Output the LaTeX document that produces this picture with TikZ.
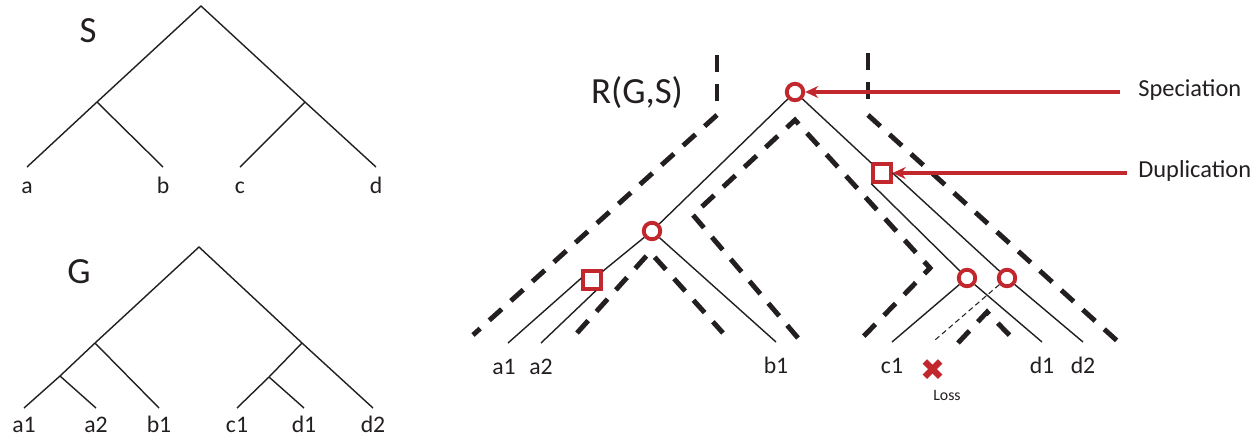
\documentclass[tikz,border=0pt]{standalone}
\usepackage{fontspec}
\setmainfont{Carlito}
\newfontfamily\symbolfont{DejaVu Sans}
\usetikzlibrary{arrows.meta, positioning}
\definecolor{eventred}{HTML}{C1272D}
\definecolor{inkgray}{HTML}{231F20}

\begin{document}
\begin{tikzpicture}[
    x=0.02cm, y=-0.02cm,
    every node/.style={text=inkgray},
    branch/.style={draw=inkgray, line width=0.8pt},
    lostbranch/.style={draw=inkgray, line width=0.6pt, dash pattern=on 3pt off 2pt},
    outline/.style={draw=inkgray, line width=2.8pt, dash pattern=on 9.5pt off 7pt},
    specnode/.style={circle, draw=eventred, fill=white, line width=2.2pt, minimum size=0.33cm, inner sep=0pt},
    dupnode/.style={rectangle, draw=eventred, fill=white, line width=2.2pt, minimum size=0.35cm, inner sep=0pt},
    leaf/.style={font=\fontsize{13.5}{15}\selectfont, inner sep=0pt, text height=0.7em, text depth=0pt},
    treetitle/.style={font=\fontsize{21}{25}\selectfont},
    eventlabel/.style={font=\fontsize{13.9}{16}\selectfont, anchor=west, inner sep=0pt, text height=0.7em, text depth=0.2em},
    pointer/.style={draw=eventred, line width=2.2pt, -{Stealth[length=0.26cm, width=0.24cm]}}
]
    \useasboundingbox (0,0) rectangle (1260,444);

    % species tree S
    \node[treetitle] (stitle) at (88,31) {S};
    \coordinate (sroot) at (201,6);
    \coordinate (sab) at (97,102);
    \coordinate (scd) at (305,102);
    \coordinate (sa) at (27,167);
    \coordinate (sb) at (163,167);
    \coordinate (sc) at (240,167);
    \coordinate (sd) at (376,167);
    \draw[branch] (sa) -- (sab) -- (sroot) -- (scd) -- (sd);
    \draw[branch] (sab) -- (sb);
    \draw[branch] (scd) -- (sc);
    \node[leaf, below=0.27cm of sa] (la) {a};
    \node[leaf, below=0.27cm of sb] (lb) {b};
    \node[leaf, below=0.27cm of sc] (lc) {c};
    \node[leaf, below=0.27cm of sd] (ld) {d};

    % gene tree G
    \node[treetitle] (gtitle) at (79,272) {G};
    \coordinate (groot) at (199,247);
    \coordinate (gab) at (95,343);
    \coordinate (ga) at (60,376);
    \coordinate (gcd) at (302,343);
    \coordinate (gc) at (269,377);
    \coordinate (ga1) at (24,408);
    \coordinate (ga2) at (96,408);
    \coordinate (gb1) at (159,408);
    \coordinate (gc1) at (237,408);
    \coordinate (gd1) at (304,408);
    \coordinate (gd2) at (373,408);
    \draw[branch] (ga1) -- (ga) -- (gab) -- (groot) -- (gcd) -- (gd2);
    \draw[branch] (ga) -- (ga2);
    \draw[branch] (gab) -- (gb1);
    \draw[branch] (gcd) -- (gc) -- (gc1);
    \draw[branch] (gc) -- (gd1);
    \node[leaf, below=0.23cm of ga1] (lga1) {a1};
    \node[leaf, below=0.23cm of ga2] (lga2) {a2};
    \node[leaf, below=0.23cm of gb1] (lgb1) {b1};
    \node[leaf, below=0.23cm of gc1] (lgc1) {c1};
    \node[leaf, below=0.23cm of gd1] (lgd1) {d1};
    \node[leaf, below=0.23cm of gd2] (lgd2) {d2};

    % reconciliation R(G,S): species tree outline
    \node[treetitle] (rtitle) at (637,93) {R(G,S)};
    \draw[outline] (717,55) -- (717,102);
    \draw[outline] (717,115) -- (473,335);
    \draw[outline] (868,53) -- (868,102);
    \draw[outline] (868,115) -- (1125,348);
    \draw[outline] (577,333) -- (650,252) -- (723,333);
    \draw[outline] (798,338) -- (693,215) -- (795,120) -- (930,268) -- (862,338);
    \draw[outline] (958,343) -- (987,312) -- (1017,343);

    % reconciled gene tree
    \node[specnode] (rroot) at (795,92) {};
    \node[specnode] (rab) at (652,231) {};
    \node[dupnode] (rdupa) at (592,280) {};
    \node[dupnode] (rdupcd) at (882,173) {};
    \node[specnode] (rcd1) at (967,278) {};
    \node[specnode] (rcd2) at (1007,278) {};
    \coordinate (ra1) at (508,343);
    \coordinate (ra2) at (541,343);
    \coordinate (rb1) at (776,342);
    \coordinate (rc1) at (892,342);
    \coordinate (rd1) at (1042,342);
    \coordinate (rlost) at (935,340);
    \coordinate (rd2) at (1083,342);
    \draw[branch] (rroot) -- (rab);
    \draw[branch] (rab) -- (rdupa);
    \draw[branch] (rdupa.170) -- (ra1);
    \draw[branch] (rdupa.290) -- (ra2);
    \draw[branch] (rab) -- (rb1);
    \draw[branch] (rroot) -- (rdupcd);
    \draw[branch] (rdupcd.225) -- (rcd1);
    \draw[branch] (rdupcd.east) -- (rcd2);
    \draw[branch] (rcd1) -- (rc1);
    \draw[branch] (rcd1) -- (rd1);
    \draw[branch] (rcd2) -- (rd2);
    \draw[lostbranch] (rcd2) -- (rlost);
    \node[leaf, below=0.37cm of ra1, xshift=-0.08cm] (lra1) {a1};
    \node[leaf, below=0.37cm of ra2] (lra2) {a2};
    \node[leaf, below=0.37cm of rb1] (lrb1) {b1};
    \node[leaf, below=0.37cm of rc1] (lrc1) {c1};
    \node[leaf, below=0.37cm of rd1] (lrd1) {d1};
    \node[leaf, below=0.37cm of rd2] (lrd2) {d2};
    \node[font=\symbolfont\fontsize{17}{18}\selectfont, text=eventred, inner sep=0pt] (lossx) at (933,370) {✖};
    \node[font=\fontsize{9}{10}\selectfont, below=0.06cm of lossx, xshift=0.28cm] (losstext) {Loss};

    % event legend
    \node[eventlabel] (speclabel) at (1138,92) {Speciation};
    \node[eventlabel] (duplabel) at (1138,173) {Duplication};
    \draw[pointer] ([xshift=-0.36cm]speclabel.west) -- (rroot);
    \draw[pointer] ([xshift=-0.22cm]duplabel.west) -- (rdupcd);
\end{tikzpicture}
\end{document}
